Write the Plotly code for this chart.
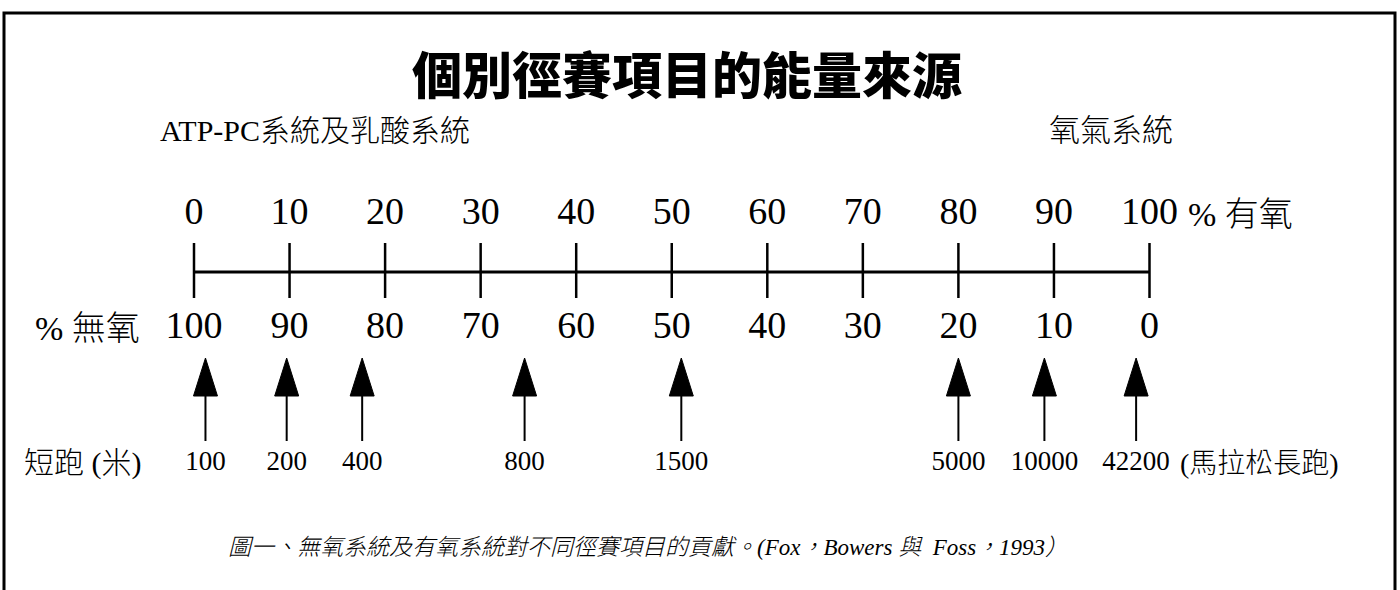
import plotly.graph_objects as go

# ---------------- data ----------------
aerobic_ticks = [0, 10, 20, 30, 40, 50, 60, 70, 80, 90, 100]
aerobic_labels = ["0", "10", "20", "30", "40", "50", "60", "70", "80", "90", "100"]
anaerobic_labels = ["100", "90", "80", "70", "60", "50", "40", "30", "20", "10", "0"]
event_names = ["100", "200", "400", "800", "1500", "5000", "10000", "42200"]
event_aerobic_pct = [1.2, 9.7, 17.6, 34.6, 51.0, 80.0, 89.0, 98.6]

title_text = "個別徑賽項目的能量來源"
left_system = "ATP-PC系統及乳酸系統"
right_system = "氧氣系統"
aerobic_name = "% 有氧"
anaerobic_name = "% 無氧"
sprint_name = "短跑 (米)"
marathon_name = "(馬拉松長跑)"
caption = "<i>圖一、無氧系統及有氧系統對不同徑賽項目的貢獻。(Fox，Bowers 與  Foss，1993）</i>"

# ---------------- layout constants ----------------
W, H = 1400, 590
X0_PX, X100_PX = 194.0, 1149.5
ppu = (X100_PX - X0_PX) / 100.0
xmin = -X0_PX / ppu
xmax = (W - X0_PX) / ppu

SERIF = "Liberation Serif, 'Noto Sans CJK TC', serif"
CJK = "'Noto Sans CJK TC', sans-serif"

Y_TOPNUM, Y_LINE, Y_TICK0, Y_TICK1, Y_BOTNUM = 214, 272, 243, 298, 328
Y_TIP, Y_BASE, Y_SHAFT_END, Y_EVENT = 358, 396, 441, 463
HEAD_HALF = 12 / ppu

fig = go.Figure()

# main scale line
fig.add_trace(go.Scatter(x=[aerobic_ticks[0], aerobic_ticks[-1]], y=[Y_LINE, Y_LINE],
                         mode="lines", line=dict(color="black", width=3),
                         hoverinfo="skip", showlegend=False))
# ticks
tx, ty = [], []
for v in aerobic_ticks:
    tx += [v, v, None]
    ty += [Y_TICK0, Y_TICK1, None]
fig.add_trace(go.Scatter(x=tx, y=ty, mode="lines", line=dict(color="black", width=2.5),
                         hoverinfo="skip", showlegend=False))
# top numbers (% aerobic)
fig.add_trace(go.Scatter(x=aerobic_ticks, y=[Y_TOPNUM] * len(aerobic_ticks), mode="text",
                         text=aerobic_labels, textposition="middle center",
                         textfont=dict(family=SERIF, size=38, color="black"),
                         hoverinfo="skip", showlegend=False))
# bottom numbers (% anaerobic)
fig.add_trace(go.Scatter(x=aerobic_ticks, y=[Y_BOTNUM] * len(aerobic_ticks), mode="text",
                         text=anaerobic_labels, textposition="middle center",
                         textfont=dict(family=SERIF, size=38, color="black"),
                         hoverinfo="skip", showlegend=False))

# arrow shafts
sx, sy = [], []
for v in event_aerobic_pct:
    sx += [v, v, None]
    sy += [Y_BASE, Y_SHAFT_END, None]
fig.add_trace(go.Scatter(x=sx, y=sy, mode="lines", line=dict(color="black", width=2),
                         hoverinfo="skip", showlegend=False))
# arrow heads
hx, hy = [], []
for v in event_aerobic_pct:
    hx += [v - HEAD_HALF, v, v + HEAD_HALF, v - HEAD_HALF, None]
    hy += [Y_BASE, Y_TIP, Y_BASE, Y_BASE, None]
fig.add_trace(go.Scatter(x=hx, y=hy, mode="lines", fill="toself", fillcolor="black",
                         line=dict(color="black", width=1),
                         hoverinfo="skip", showlegend=False))
# event labels
fig.add_trace(go.Scatter(x=event_aerobic_pct, y=[Y_EVENT] * len(event_aerobic_pct), mode="text",
                         text=event_names, textposition="middle center",
                         textfont=dict(family=SERIF, size=27, color="black"),
                         hoverinfo="skip", showlegend=False))

def ann(text, xpx, y, size, anchor="center", family=SERIF, weight=None, style=None):
    f = dict(family=family, size=size, color="black")
    if weight is not None:
        f["weight"] = weight
    if style is not None:
        f["style"] = style
    fig.add_annotation(text=text, xref="paper", yref="y", x=xpx / W, y=y,
                       xanchor=anchor, yanchor="middle", showarrow=False, font=f)

ann(title_text, 687, 72, 50, family=CJK, weight=900)
ann(left_system, 158, 130, 30, anchor="left", weight=300)
ann(right_system, 1175, 130, 31, anchor="right", weight=300)
ann(aerobic_name, 1186, Y_TOPNUM, 34, anchor="left", weight=300)
ann(anaerobic_name, 142, Y_BOTNUM, 34, anchor="right", weight=300)
ann(sprint_name, 22, Y_EVENT, 30, anchor="left", weight=300)
ann(marathon_name, 1178, Y_EVENT, 28, anchor="left", weight=300)
ann(caption, 648, 547, 23, weight=300)

# frame (open at the bottom)
fig.add_shape(type="rect", xref="paper", yref="paper",
              x0=4 / W, x1=1395 / W, y0=-0.05, y1=1 - 13 / H,
              line=dict(color="black", width=3), fillcolor="rgba(0,0,0,0)")

fig.update_layout(
    width=W, height=H,
    margin=dict(l=0, r=0, t=0, b=0),
    paper_bgcolor="white", plot_bgcolor="white",
    xaxis=dict(range=[xmin, xmax], visible=False, fixedrange=True),
    yaxis=dict(range=[H, 0], visible=False, fixedrange=True),
    showlegend=False,
)

fig.write_html("out.html", config={"displayModeBar": False},
               post_script="document.body.style.margin='0';document.body.style.overflow='hidden';")
